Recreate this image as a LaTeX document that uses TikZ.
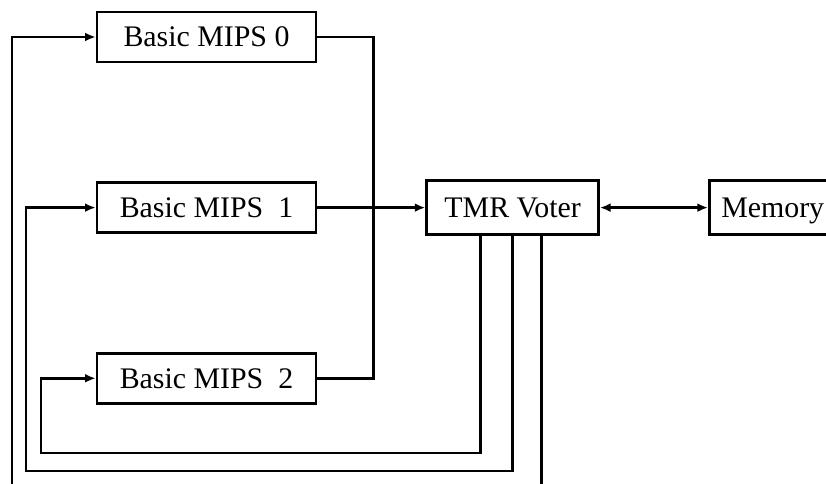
\documentclass[tikz,border=0pt]{standalone}
\usepackage{fontspec}
\setmainfont{Liberation Serif}
\usetikzlibrary{arrows.meta, positioning}

\begin{document}
\begin{tikzpicture}[line width=1.5pt, >={Latex[length=6pt,width=5pt]},
		mips/.style={draw, minimum width=4.38cm, minimum height=1cm, font=\fontsize{17}{20}\selectfont},
		unit/.style={draw, minimum height=1.08cm, inner xsep=0.24cm, text height=11.5pt, text depth=0pt, font=\fontsize{17}{20}\selectfont}]
		
		\clip (0,0) rectangle (16.52,9.68);
		
		\node[mips] (m0) at (4.13,8.94) {Basic MIPS 0};
		\node[mips, below=2.36cm of m0] (m1) {Basic MIPS\ \ 1};
		\node[mips, below=2.36cm of m1] (m2) {Basic MIPS\ \ 2};
		\node[unit, minimum width=3.44cm, right=2.16cm of m1] (tmr) {TMR Voter};
		\node[unit, right=2.16cm of tmr] (mem) {Memory};
		
		\coordinate (loop0) at (0.24,-0.3);
		\coordinate (loop1) at (0.52,0.26);
		\coordinate (loop2) at (0.82,0.62);
		
		\draw (m0.east) -- ++(1.12,0) |- (m2.east);
		\draw[->] (m1.east) -- (tmr.west);
		\draw[<->] (tmr.east) -- (mem.west);
		
		\draw[->] ([xshift=-0.64cm]tmr.south) |- (loop2) |- (m2.west);
		\draw[->] (tmr.south) |- (loop1) |- (m1.west);
		\draw[->] ([xshift=0.58cm]tmr.south) |- (loop0) |- (m0.west);
		
		\end{tikzpicture}
\end{document}
